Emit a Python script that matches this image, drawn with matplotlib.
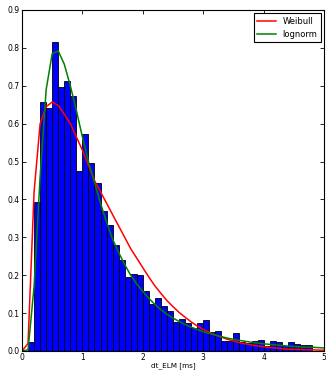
import numpy as np
import matplotlib
matplotlib.use("Agg")
import matplotlib.pyplot as plt

# histogram of ELM waiting times (normalised), bins of 0.1 ms starting at 0.1
bin_left = np.round(np.arange(0.1, 4.75, 0.1), 2)
density = [0.024, 0.392, 0.658, 0.642, 0.816, 0.697, 0.713, 0.673, 0.475, 0.574,
           0.495, 0.444, 0.370, 0.332, 0.281, 0.241, 0.194, 0.204, 0.200, 0.158,
           0.125, 0.141, 0.118, 0.106, 0.077, 0.085, 0.074, 0.061, 0.074, 0.083,
           0.049, 0.052, 0.026, 0.026, 0.048, 0.023, 0.020, 0.026, 0.030, 0.014,
           0.027, 0.023, 0.012, 0.023, 0.019, 0.015, 0.015]

# fitted curves
fit_x = [0.0, 0.1, 0.2, 0.3, 0.4, 0.5, 0.6, 0.7, 0.8, 0.9, 1.0, 1.1, 1.2, 1.3, 1.4,
         1.5, 1.6, 1.7, 1.8, 1.9, 2.0, 2.1, 2.2, 2.3, 2.4, 2.5, 2.6, 2.7, 2.8, 2.9,
         3.0, 3.2, 3.4, 3.6, 3.8, 4.0, 4.2, 4.4, 4.6, 4.8, 5.0]
weibull = [0.0, 0.02, 0.42, 0.60, 0.645, 0.657, 0.648, 0.625, 0.60, 0.565, 0.53,
           0.49, 0.45, 0.42, 0.39, 0.36, 0.33, 0.30, 0.27, 0.245, 0.22, 0.195,
           0.172, 0.152, 0.133, 0.117, 0.102, 0.089, 0.077, 0.066, 0.057, 0.042,
           0.031, 0.022, 0.016, 0.011, 0.008, 0.005, 0.004, 0.003, 0.002]
lognorm = [0.0, 0.003, 0.17, 0.46, 0.69, 0.785, 0.792, 0.757, 0.70, 0.635, 0.565,
           0.50, 0.445, 0.39, 0.34, 0.295, 0.26, 0.228, 0.20, 0.177, 0.157, 0.139,
           0.123, 0.109, 0.097, 0.087, 0.078, 0.070, 0.063, 0.057, 0.051, 0.042,
           0.034, 0.028, 0.023, 0.019, 0.016, 0.013, 0.011, 0.010, 0.008]


fig = plt.figure(figsize=(3.26, 3.71), dpi=100)
ax = fig.add_axes([22 / 326, 20 / 371, 302 / 326, 341 / 371])

ax.bar(bin_left, density, width=0.1, align="edge", color="#0000ff",
       edgecolor="black", linewidth=0.6)
ax.plot(fit_x, weibull, color="red", lw=1.1, label="Weibull")
ax.plot(fit_x, lognorm, color="green", lw=1.1, label="lognorm")

ax.set_xlim(0, 5)
ax.set_ylim(0, 0.9)
ax.set_xticks(range(6))
ax.set_yticks(np.round(np.arange(0, 0.91, 0.1), 1))
ax.tick_params(direction="in", top=True, right=True, labelsize=5.5,
               length=3, width=0.6, pad=1.5)
for s in ax.spines.values():
    s.set_linewidth(0.8)
ax.set_xlabel("dt_ELM [ms]", fontsize=5.2, labelpad=0)

leg = ax.legend(loc="upper right", fontsize=6, fancybox=False, framealpha=1,
                edgecolor="black", handlelength=2.2, borderaxespad=0.4)
leg.get_frame().set_linewidth(0.8)

fig.savefig("out.png", dpi=100)
